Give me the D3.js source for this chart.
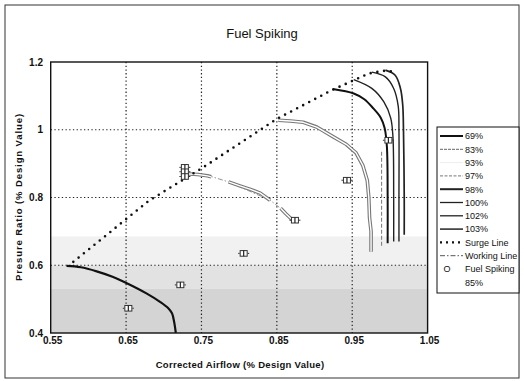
<!DOCTYPE html>
<html>
<head>
<meta charset="utf-8">
<script src="https://cdn.jsdelivr.net/npm/d3@7"></script>
<style>
  body { margin: 0; background: #fff; }
  text { font-family: Arial, "Liberation Sans", sans-serif; fill: #111; }
</style>
</head>
<body>
<div id="chart"></div>
<script>
// data
const xTicks = [0.55, 0.65, 0.75, 0.85, 0.95, 1.05];
const yTicks = [0.4, 0.6, 0.8, 1.0, 1.2];

const speed69 = [[0.571,0.598],[0.59,0.594],[0.611,0.582],[0.632,0.566],[0.651,0.547],[0.677,0.517],[0.695,0.492],[0.706,0.473],[0.711,0.458],[0.714,0.43],[0.716,0.40]];
const speed83a = [[0.729,0.870],[0.745,0.868],[0.758,0.864],[0.763,0.861]];
const speed83b = [[0.786,0.846],[0.80,0.835],[0.815,0.824],[0.828,0.813],[0.841,0.792]];
const speed83c = [[0.855,0.768],[0.862,0.752],[0.870,0.735],[0.878,0.729]];
const speed93 = [[0.852,1.028],[0.868,1.026],[0.885,1.022],[0.903,1.008],[0.925,0.979],[0.942,0.957],[0.955,0.932],[0.964,0.895],[0.970,0.850],[0.972,0.80],[0.973,0.74],[0.975,0.70],[0.975,0.64]];
const speed97 = [[0.989,0.935],[0.989,0.80],[0.989,0.655]];
const speed98 = [[0.924,1.120],[0.952,1.107],[0.966,1.09],[0.978,1.063],[0.988,1.035],[0.993,1.005],[0.996,0.95],[0.997,0.80],[0.997,0.665]];
const speed100 = [[0.952,1.148],[0.976,1.122],[0.992,1.082],[1.001,1.035],[1.004,0.98],[1.005,0.80],[1.005,0.67]];
const speed102 = [[0.976,1.170],[0.994,1.156],[1.005,1.122],[1.011,1.07],[1.012,1.0],[1.012,0.80],[1.012,0.67]];
const speed103 = [[0.994,1.176],[1.007,1.161],[1.014,1.122],[1.017,1.073],[1.018,1.0],[1.019,0.80],[1.019,0.69]];
const surgeLine = [[0.58,0.61],[0.68,0.79],[0.753,0.89],[0.85,1.032],[0.923,1.117],[0.952,1.146],[0.972,1.166],[0.991,1.174],[1.004,1.172]];
const workingLine = [[0.745,0.872],[0.763,0.862],[0.786,0.846],[0.841,0.792],[0.855,0.768],[0.874,0.733]];
const fuelSpiking = [[0.653,0.473],[0.722,0.542],[0.806,0.635],[0.943,0.851],[0.998,0.969],[0.728,0.889],[0.728,0.876],[0.728,0.862],[0.874,0.733]];

const legendLabels = ["69%","83%","93%","97%","98%","100%","102%","103%","Surge Line","Working Line","Fuel Spiking","85%"];

const W = 524, H = 381;
const svg = d3.select("#chart").append("svg").attr("width", W).attr("height", H);

// outer frame
svg.append("rect").attr("x", 5).attr("y", 5).attr("width", 514).attr("height", 373)
  .attr("fill", "none").attr("stroke", "#333").attr("stroke-width", 1);

const x = d3.scaleLinear().domain([0.55, 1.05]).range([50.7, 427.6]);
const y = d3.scaleLinear().domain([0.4, 1.2]).range([333, 62]);

// speckled gray bands near the bottom of the plot
const bands = [[0.60, 0.685, "#f1f1f1"], [0.53, 0.60, "#e2e2e2"], [0.40, 0.53, "#d4d4d4"]];
svg.selectAll(".band").data(bands).enter().append("rect")
  .attr("x", x(0.55)).attr("width", x(1.05) - x(0.55))
  .attr("y", d => y(d[1])).attr("height", d => y(d[0]) - y(d[1]))
  .attr("fill", d => d[2]);

// grid
svg.selectAll(".vg").data(xTicks.slice(1, -1)).enter().append("line")
  .attr("x1", d => x(d)).attr("x2", d => x(d)).attr("y1", y(1.2)).attr("y2", y(0.4))
  .attr("stroke", "#222").attr("stroke-width", 1.2).attr("stroke-dasharray", "1.3,2.4");
svg.selectAll(".hg").data(yTicks.slice(1, -1)).enter().append("line")
  .attr("y1", d => y(d)).attr("y2", d => y(d)).attr("x1", x(0.55)).attr("x2", x(1.05))
  .attr("stroke", "#222").attr("stroke-width", 1.2).attr("stroke-dasharray", "1.3,2.4");

// plot border
svg.append("rect").attr("x", x(0.55)).attr("y", y(1.2))
  .attr("width", x(1.05) - x(0.55)).attr("height", y(0.4) - y(1.2))
  .attr("fill", "none").attr("stroke", "#111").attr("stroke-width", 1.4);

const line = d3.line().x(d => x(d[0])).y(d => y(d[1])).curve(d3.curveMonotoneY);
const lineL = d3.line().x(d => x(d[0])).y(d => y(d[1]));

const plot = svg.append("g");
plot.append("clipPath").attr("id", "clip").append("rect")
  .attr("x", x(0.55)).attr("y", y(1.2)).attr("width", x(1.05) - x(0.55)).attr("height", y(0.4) - y(1.2));
const g = plot.append("g").attr("clip-path", "url(#clip)");

// double (hollow) lines
function hollow(data) {
  g.append("path").attr("d", lineL(data)).attr("fill", "none").attr("stroke", "#777").attr("stroke-width", 3.6).attr("stroke-linejoin", "round");
  g.append("path").attr("d", lineL(data)).attr("fill", "none").attr("stroke", "#fff").attr("stroke-width", 1.4).attr("stroke-linejoin", "round");
}

// working line
g.append("path").attr("d", lineL(workingLine)).attr("fill", "none")
  .attr("stroke", "#888").attr("stroke-width", 0.9).attr("stroke-dasharray", "5,2,1.5,2");

hollow(speed93);
hollow(speed83a);
hollow(speed83b);
hollow(speed83c);

g.append("path").attr("d", lineL(speed97)).attr("fill", "none")
  .attr("stroke", "#777").attr("stroke-width", 1).attr("stroke-dasharray", "4,2");

const solids = [[speed69, 2.2, "#111"], [speed98, 2, "#111"], [speed100, 1.4, "#222"], [speed102, 1.4, "#222"], [speed103, 1.7, "#222"]];
solids.forEach(s => {
  g.append("path").attr("d", d3.line().x(d => x(d[0])).y(d => y(d[1])).curve(d3.curveCatmullRom)(s[0]))
    .attr("fill", "none").attr("stroke", s[2]).attr("stroke-width", s[1]);
});

// surge line, round dots
g.append("path").attr("d", lineL(surgeLine)).attr("fill", "none")
  .attr("stroke", "#111").attr("stroke-width", 2.6).attr("stroke-linecap", "round")
  .attr("stroke-dasharray", "0,6.8");

// fuel spiking markers
const mk = g.selectAll(".mk").data(fuelSpiking).enter().append("g")
  .attr("transform", d => `translate(${x(d[0])},${y(d[1])})`);
mk.append("rect").attr("x", -3.5).attr("y", -2.8).attr("width", 7).attr("height", 5.6)
  .attr("fill", "#fff").attr("stroke", "#333").attr("stroke-width", 1);
mk.append("line").attr("x1", 0).attr("x2", 0).attr("y1", -2.8).attr("y2", 2.8).attr("stroke", "#222").attr("stroke-width", 1.2);
mk.append("line").attr("x1", -5.5).attr("x2", -4).attr("y1", 0).attr("y2", 0).attr("stroke", "#333").attr("stroke-width", 1);
mk.append("line").attr("x1", 4).attr("x2", 5.5).attr("y1", 0).attr("y2", 0).attr("stroke", "#333").attr("stroke-width", 1);

// axis labels
svg.selectAll(".xt").data(xTicks).enter().append("text")
  .attr("x", d => x(d) + 2).attr("y", 344).attr("text-anchor", "middle")
  .attr("font-size", 10).attr("font-weight", "bold").text(d => d.toFixed(2));
svg.selectAll(".yt").data(yTicks).enter().append("text")
  .attr("x", 43).attr("y", d => y(d) + 3.5).attr("text-anchor", "end")
  .attr("font-size", 10).attr("font-weight", "bold").text(d => d3.format("")(d));

svg.append("text").attr("x", 240).attr("y", 368).attr("text-anchor", "middle")
  .attr("font-size", 9.5).attr("font-weight", "bold").attr("letter-spacing", 0.3)
  .text("Corrected Airflow (% Design Value)");
svg.append("text").attr("transform", "translate(22,197) rotate(-90)").attr("text-anchor", "middle")
  .attr("font-size", 9.5).attr("font-weight", "bold").attr("letter-spacing", 0.9)
  .text("Presure Ratio (% Design Value)");
svg.append("text").attr("x", 262).attr("y", 38).attr("text-anchor", "middle")
  .attr("font-size", 13).text("Fuel Spiking");

// legend
const lg = svg.append("g");
lg.append("rect").attr("x", 437).attr("y", 127).attr("width", 82).attr("height", 166)
  .attr("fill", "#fff").attr("stroke", "#111").attr("stroke-width", 1);
const legendStyles = [
  {w: 2, c: "#111", dash: null},
  {w: 1, c: "#666", dash: "3,1"},
  {w: 1, c: "#eee", dash: null},
  {w: 1, c: "#777", dash: "3,1.5"},
  {w: 2, c: "#222", dash: null},
  {w: 1.3, c: "#222", dash: null},
  {w: 1.3, c: "#222", dash: null},
  {w: 1.6, c: "#333", dash: null},
  {w: 2.2, c: "#111", dash: "2,4"},
  {w: 1, c: "#555", dash: "5,2,1.5,2"},
  null, null
];
const rowY = i => 136 + i * 13.3;
legendLabels.forEach((lab, i) => {
  const st = legendStyles[i];
  if (st) {
    lg.append("line").attr("x1", 440).attr("x2", 463).attr("y1", rowY(i)).attr("y2", rowY(i))
      .attr("stroke", st.c).attr("stroke-width", st.w).attr("stroke-dasharray", st.dash);
  }
  lg.append("text").attr("x", 465).attr("y", rowY(i) + 3.3).attr("font-size", 9).text(lab);
});
lg.append("text").attr("x", 447).attr("y", rowY(10) + 3.3).attr("text-anchor", "middle")
  .attr("font-size", 9).text("O");
</script>
</body>
</html>
